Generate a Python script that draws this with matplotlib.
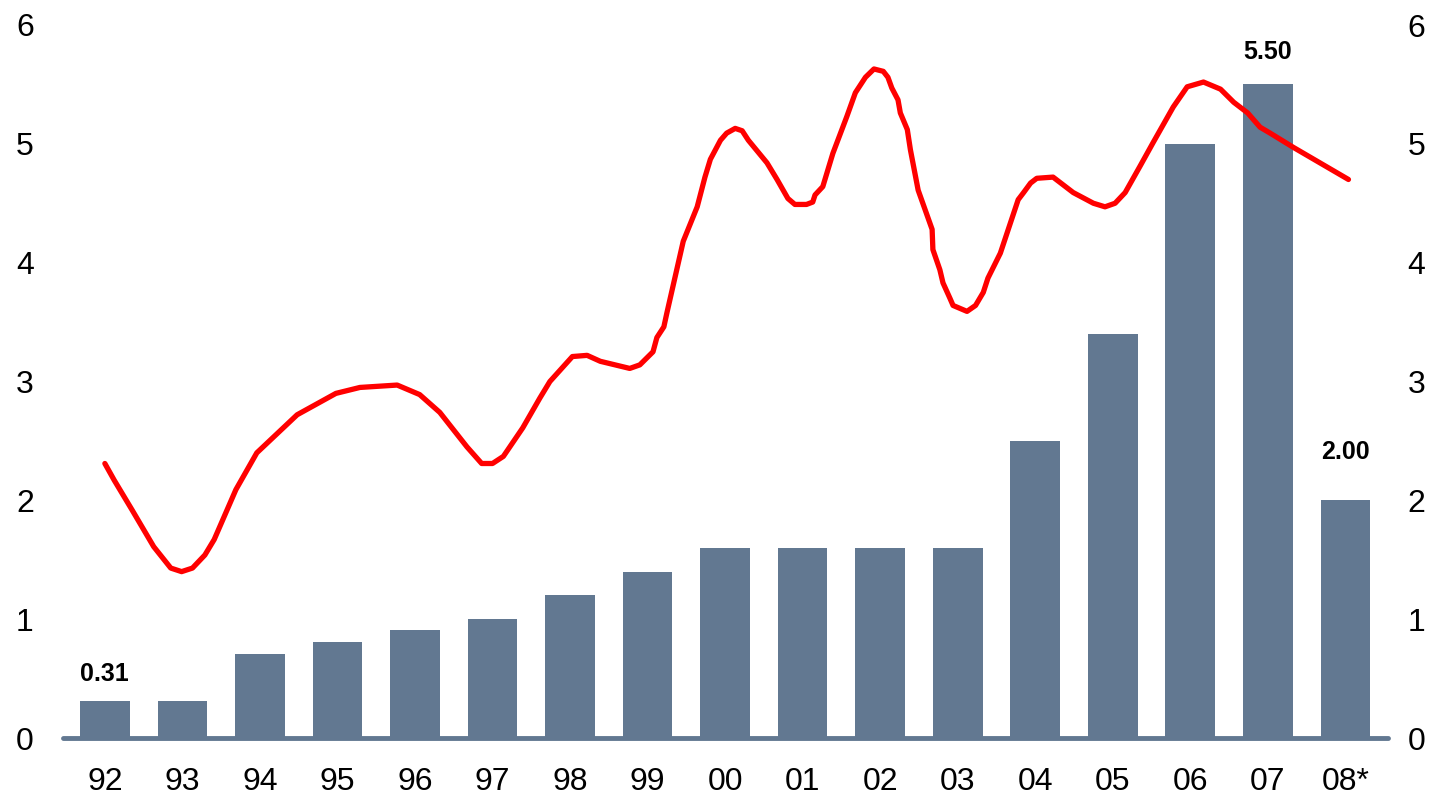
import matplotlib
matplotlib.use("Agg")
import matplotlib.pyplot as plt
import numpy as np

plt.rcParams['font.family'] = ['Liberation Sans', 'DejaVu Sans']

# ---- data ----
years = ["92", "93", "94", "95", "96", "97", "98", "99", "00", "01", "02",
         "03", "04", "05", "06", "07", "08*"]
bar_values = [0.31, 0.31, 0.71, 0.81, 0.91, 1.0, 1.2, 1.4, 1.6, 1.6, 1.6,
              1.6, 2.5, 3.4, 5.0, 5.5, 2.0]

# red line (smooth series), x in units of year index
line_x = [0.00, 0.12, 0.35, 0.63, 0.85, 0.99, 1.13, 1.29, 1.41, 1.69, 1.96,
          2.48, 2.98, 3.29, 3.77, 4.06, 4.32, 4.67, 4.86, 5.00, 5.14, 5.39,
          5.61, 5.74, 6.03, 6.22, 6.39, 6.77, 6.90, 7.07, 7.12, 7.21, 7.25,
          7.46, 7.64, 7.74, 7.81, 7.94, 8.02, 8.13, 8.22, 8.30, 8.54, 8.67,
          8.81, 8.90, 9.05, 9.13, 9.16, 9.26, 9.39, 9.57, 9.68, 9.81, 9.92,
          10.04, 10.10, 10.15, 10.23, 10.26, 10.35, 10.39, 10.49, 10.67,
          10.68, 10.77, 10.81, 10.90, 10.94, 11.12, 11.23, 11.33, 11.39,
          11.55, 11.78, 11.85, 11.94, 12.02, 12.23, 12.49, 12.75, 12.90,
          13.03, 13.16, 13.35, 13.52, 13.78, 13.96, 14.17, 14.39, 14.56,
          14.74, 14.90, 15.03, 15.33, 16.04]
line_y = [2.31, 2.17, 1.92, 1.61, 1.43, 1.40, 1.43, 1.54, 1.67, 2.09, 2.40,
          2.72, 2.90, 2.95, 2.97, 2.89, 2.74, 2.45, 2.31, 2.31, 2.37, 2.61,
          2.86, 3.00, 3.21, 3.22, 3.17, 3.11, 3.14, 3.25, 3.37, 3.46, 3.58,
          4.18, 4.47, 4.72, 4.87, 5.03, 5.09, 5.13, 5.11, 5.03, 4.84, 4.70,
          4.54, 4.49, 4.49, 4.51, 4.57, 4.64, 4.92, 5.23, 5.43, 5.56, 5.63,
          5.61, 5.56, 5.47, 5.37, 5.26, 5.12, 4.95, 4.61, 4.28,
          4.11, 3.94, 3.83, 3.70, 3.64, 3.59, 3.64, 3.75, 3.87,
          4.08, 4.53, 4.59, 4.67, 4.71, 4.72, 4.59, 4.50, 4.47,
          4.50, 4.59, 4.81, 5.01, 5.31, 5.48, 5.52, 5.46, 5.35,
          5.26, 5.14, 5.09, 4.97, 4.70]

labeled_idx = [0, 15, 16]
label_texts = ["0.31", "5.50", "2.00"]
label_offsets_px = [15, 20, 36]

yticks = [0, 1, 2, 3, 4, 5, 6]

# ---- style ----
bar_color = "#627891"
line_color = "#ff0000"

fig = plt.figure(figsize=(14.44, 7.98), dpi=100)
ax = fig.add_axes([63/1444, 60/798, (1388-63)/1444, (738-25)/798])

x = np.arange(len(years))
ax.bar(x, bar_values, width=0.64, color=bar_color, zorder=2)
ax.plot(line_x, line_y, color=line_color, lw=3.8, zorder=3,
        solid_joinstyle='round', solid_capstyle='round')

for i, t, off in zip(labeled_idx, label_texts, label_offsets_px):
    ax.annotate(t, (x[i], bar_values[i]), xytext=(0, off*0.72),
                textcoords='offset points', ha='center', va='bottom',
                fontsize=18, fontweight='bold', color='black', zorder=4)

ax.set_xlim(-0.54, 16.55)
ax.set_ylim(0, 6)
for s in ['top', 'left', 'right']:
    ax.spines[s].set_visible(False)
ax.spines['bottom'].set_color(bar_color)
ax.spines['bottom'].set_linewidth(3.5)
ax.spines['bottom'].set_capstyle('round')
ax.spines['bottom'].set_zorder(5)

ax.set_xticks(x)
ax.set_xticklabels(years)
ax.set_yticks(yticks)
ax.set_yticklabels([str(v) for v in yticks])
ax.tick_params(axis='x', length=0, pad=21, labelsize=23)
ax.tick_params(axis='y', length=0, pad=21, labelsize=23)

ax2 = ax.twinx()
ax2.set_ylim(0, 6)
ax2.set_yticks(yticks)
ax2.set_yticklabels([str(v) for v in yticks])
ax2.tick_params(axis='y', length=0, pad=14, labelsize=23)
for s in ax2.spines.values():
    s.set_visible(False)
ax2.patch.set_visible(False)

fig.savefig("out.png", dpi=100, facecolor='white')
